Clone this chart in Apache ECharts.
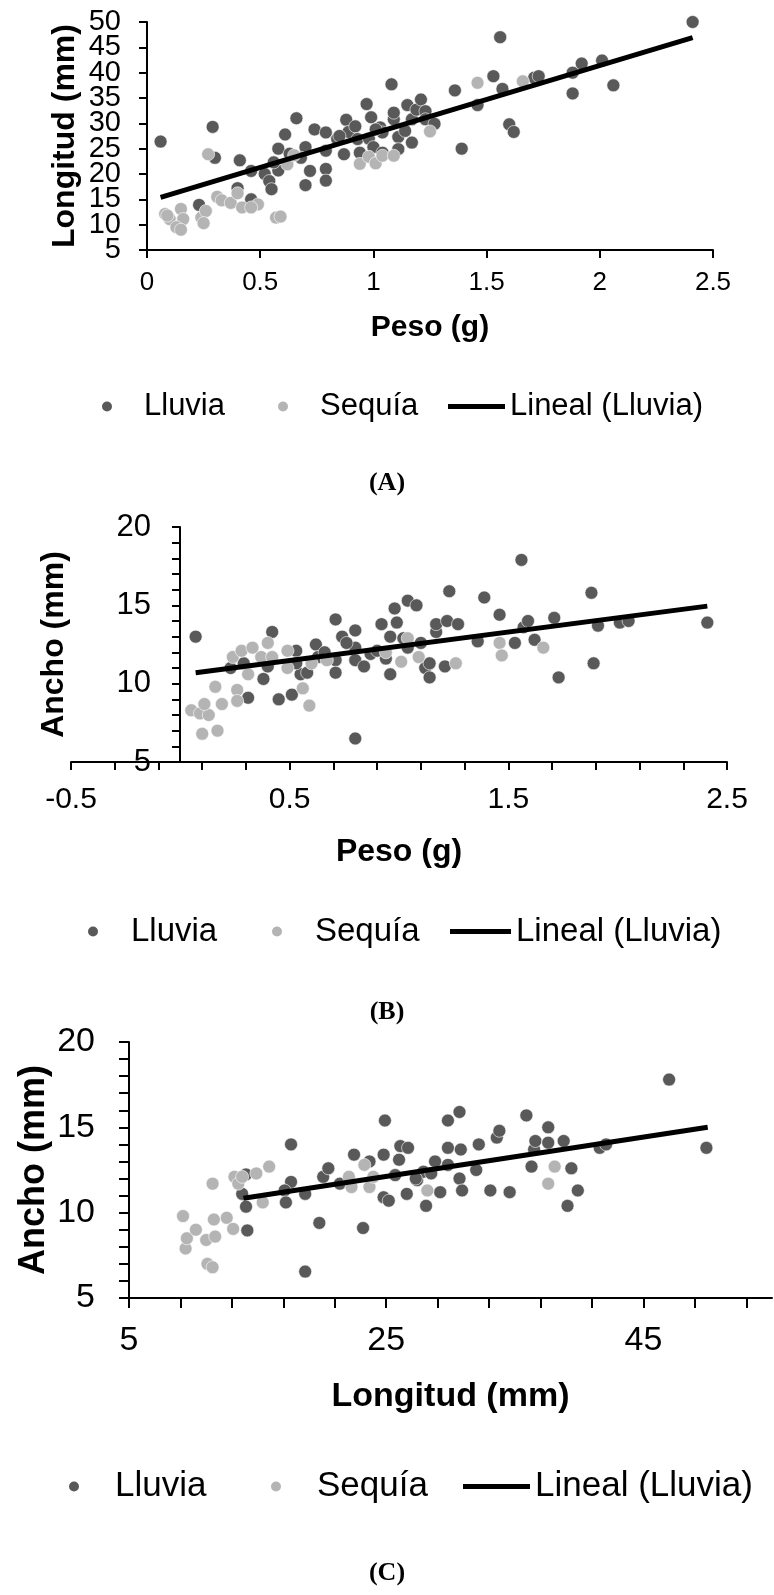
<!DOCTYPE html>
<html lang="es">
<head>
<meta charset="UTF-8">
<title>Peso, longitud y ancho</title>
<script src="https://cdn.jsdelivr.net/npm/echarts@6/dist/echarts.min.js"></script>
<style>
  html, body { margin: 0; padding: 0; background: #fff; }
  #main { width: 774px; height: 1595px; }
</style>
</head>
<body>
<div id="main"></div>
<script>
// (A) Peso (g) vs Longitud (mm)
var lluviaA = [
  [0.06, 26.4], [0.29, 29.3], [0.30, 23.2], [0.23, 13.9], [0.41, 22.7], [0.40, 17.2],
  [0.46, 20.6], [0.46, 15.0], [0.52, 20.0], [0.54, 18.6], [0.55, 17.0], [0.58, 20.7],
  [0.58, 25.0], [0.61, 27.8], [0.66, 31.0], [0.70, 25.3], [0.70, 17.8], [0.72, 20.6],
  [0.74, 28.8], [0.68, 23.2], [0.79, 28.2], [0.79, 24.6], [0.79, 21.0], [0.79, 18.7],
  [0.84, 26.9], [0.87, 23.9], [0.88, 30.7], [0.89, 28.3], [0.92, 29.4], [0.93, 26.9],
  [0.94, 24.2], [0.97, 33.8], [0.99, 31.2], [0.98, 27.0], [1.00, 25.3], [1.03, 29.2],
  [1.04, 28.2], [1.04, 24.2], [1.08, 37.7], [1.09, 30.8], [1.09, 32.1], [1.11, 27.3],
  [1.11, 24.9], [1.15, 33.6], [1.14, 28.5], [1.17, 26.2], [1.17, 30.8], [1.19, 32.7],
  [1.21, 34.7], [1.23, 32.4], [1.23, 30.8], [1.27, 29.9], [1.36, 36.5], [1.39, 25.0],
  [1.46, 33.6], [1.53, 39.3], [1.56, 47.0], [1.57, 36.8], [1.60, 29.8], [1.62, 28.3],
  [1.71, 39.0], [1.73, 39.3], [1.88, 35.9], [1.88, 40.0], [1.92, 41.8], [2.01, 42.4],
  [2.06, 37.5], [2.41, 50.0], [0.56, 22.3], [0.63, 24.0], [0.85, 27.5], [1.01, 28.8]
];
var sequiaA = [
  [0.08, 12.1], [0.10, 11.1], [0.15, 13.1], [0.16, 11.1], [0.13, 9.5], [0.15, 9.0],
  [0.24, 11.4], [0.26, 12.7], [0.25, 10.3], [0.27, 23.9], [0.31, 15.5], [0.33, 14.8],
  [0.37, 14.3], [0.40, 16.2], [0.42, 13.4], [0.49, 14.0], [0.46, 13.4], [0.57, 11.4],
  [0.59, 11.6], [0.62, 21.9], [0.65, 23.7], [0.94, 22.0], [0.98, 23.4], [1.01, 22.1],
  [1.04, 23.6], [1.09, 23.6], [1.25, 28.4], [1.46, 38.0], [1.66, 38.3], [0.09, 11.8]
];
var trendA = [[0.06, 15.4], [2.41, 46.9]];

// (B) Peso (g) vs Ancho (mm)
var lluviaB = [
  [0.07, 13.0], [0.42, 13.3], [0.40, 11.1], [0.38, 10.3], [0.31, 9.1], [0.29, 11.3],
  [0.23, 11.0], [0.45, 9.0], [0.51, 9.3], [0.53, 12.1], [0.55, 10.6], [0.58, 10.7],
  [0.62, 12.5], [0.63, 11.7], [0.71, 14.1], [0.71, 11.5], [0.71, 10.7], [0.74, 13.0],
  [0.80, 13.4], [0.80, 12.3], [0.80, 11.5], [0.80, 6.5], [0.84, 11.1], [0.87, 11.9],
  [0.92, 13.8], [0.94, 11.6], [0.96, 10.6], [0.98, 14.8], [0.99, 13.9], [0.96, 13.0],
  [1.04, 12.3], [1.04, 15.3], [1.08, 15.0], [1.10, 12.6], [1.12, 11.0], [1.14, 10.4],
  [1.14, 11.3], [1.17, 13.3], [1.17, 13.8], [1.21, 11.1], [1.23, 15.9], [1.22, 14.0],
  [1.27, 13.8], [1.36, 12.7], [1.39, 15.5], [1.46, 14.4], [1.53, 12.6], [1.56, 17.9],
  [1.57, 13.6], [1.59, 14.0], [1.62, 12.8], [1.71, 14.2], [1.73, 10.4], [1.88, 15.8],
  [1.89, 11.3], [1.91, 13.7], [2.01, 13.9], [2.05, 14.0], [2.41, 13.9], [0.53, 11.3],
  [0.66, 12.0], [0.76, 12.6], [0.90, 12.1], [1.02, 12.9]
];
var sequiaB = [
  [0.05, 8.3], [0.09, 8.1], [0.13, 8.0], [0.11, 8.7], [0.16, 9.8], [0.10, 6.8],
  [0.17, 7.0], [0.19, 8.7], [0.24, 11.7], [0.26, 9.6], [0.26, 8.9], [0.28, 12.1],
  [0.31, 10.6], [0.33, 12.3], [0.37, 11.7], [0.40, 12.6], [0.42, 11.7], [0.49, 12.1],
  [0.49, 11.0], [0.56, 9.7], [0.59, 8.6], [0.60, 11.3], [0.67, 11.5], [0.94, 12.0],
  [1.01, 11.4], [1.04, 12.9], [1.09, 11.7], [1.26, 11.3], [1.46, 12.6], [1.47, 11.8],
  [1.66, 12.3]
];
var trendB = [[0.07, 10.7], [2.41, 14.95]];

// (C) Longitud (mm) vs Ancho (mm)
var lluviaC = [
  [14.1, 10.35], [14.2, 8.96], [14.1, 12.24], [13.8, 11.1], [17.6, 14.0], [17.6, 11.8],
  [17.1, 11.3], [17.2, 10.6], [18.7, 11.1], [18.7, 6.55], [19.8, 9.4], [20.1, 12.1],
  [20.5, 12.6], [22.5, 13.4], [23.2, 9.1], [23.7, 13.0], [24.8, 13.4], [24.9, 15.4],
  [24.8, 10.9], [25.2, 10.7], [25.7, 12.2], [26.1, 13.9], [26.0, 13.1], [26.6, 11.1],
  [26.7, 13.8], [27.4, 11.9], [27.9, 12.4], [28.1, 10.4], [28.8, 13.0], [29.2, 11.2],
  [29.8, 15.4], [29.8, 13.8], [29.8, 12.8], [30.7, 15.9], [30.8, 13.7], [30.7, 12.0],
  [30.9, 11.3], [32.0, 12.5], [32.2, 14.0], [33.1, 11.3], [33.6, 14.4], [33.8, 14.8],
  [34.6, 11.2], [35.9, 15.7], [36.3, 12.7], [36.5, 13.7], [36.6, 14.2], [37.6, 15.0],
  [37.6, 14.1], [38.8, 14.2], [39.1, 10.4], [39.4, 12.6], [39.9, 11.3], [41.6, 13.8],
  [42.1, 14.0], [47.0, 17.8], [49.9, 13.8], [27.3, 12.0], [28.5, 12.3], [21.4, 11.7]
];
var sequiaC = [
  [9.2, 9.8], [9.4, 7.9], [9.5, 8.5], [10.2, 9.0], [11.0, 8.4], [11.1, 7.0],
  [11.5, 6.8], [11.5, 11.7], [11.6, 9.6], [11.7, 8.6], [12.6, 9.7], [13.1, 9.05],
  [13.2, 12.1], [13.5, 11.7], [13.8, 12.1], [14.9, 12.3], [15.9, 12.7], [15.4, 10.6],
  [22.1, 12.1], [22.3, 11.5], [23.3, 12.8], [23.7, 11.5], [24.0, 12.1], [28.2, 11.3],
  [37.6, 11.7], [38.1, 12.7]
];
var trendC = [[13.9, 10.85], [50.0, 15.0]];

// ticks and labels
var ticksAy = [5, 10, 15, 20, 25, 30, 35, 40, 45, 50];
var labelsAyOdd = [5, 15, 25, 35, 45];
var labelsAyEven = [10, 20, 30, 40, 50];
var ticksBx = [-0.5, -0.3, -0.1, 0.1, 0.3, 0.5, 0.7, 0.9, 1.1, 1.3, 1.5, 1.7, 1.9, 2.1, 2.3, 2.5];
var labelsBx = [-0.5, 0.5, 1.5, 2.5];
var ticksCx = [5, 9, 13, 17, 21, 25, 29, 33, 37, 41, 45, 49, 53];
var labelsCx = [5, 25, 45];
var ticksY = [5, 6, 7, 8, 9, 10, 11, 12, 13, 14, 15, 16, 17, 18, 19, 20];
var labelsY = [5, 10, 15, 20];

var FONT = 'Liberation Sans, Arial, sans-serif';
var DARK = '#595959';
var LIGHT = '#b4b4b4';

function axisBase(fs, margin, tickLen) {
  return {
    type: 'value',
    nameMoveOverlap: false,
    splitLine: { show: false },
    axisLine: { show: true, onZero: false, lineStyle: { color: '#000', width: 2 } },
    axisTick: { show: true, inside: false, length: tickLen, lineStyle: { color: '#000', width: 2 } },
    axisLabel: {
      color: '#000', fontSize: fs, fontFamily: FONT, margin: margin,
      showMinLabel: true, showMaxLabel: true, hideOverlap: false
    },
    nameTextStyle: { color: '#000', fontFamily: FONT, fontWeight: 'bold' }
  };
}

function merge(a, b) {
  for (var k in b) {
    if (b[k] && typeof b[k] === 'object' && !Array.isArray(b[k]) && a[k]) {
      a[k] = merge(a[k], b[k]);
    } else {
      a[k] = b[k];
    }
  }
  return a;
}

var xAxes = [
  merge(axisBase(26, 20, 8), {
    gridIndex: 0, min: 0, max: 2.5, interval: 0.5,
    name: 'Peso (g)', nameLocation: 'middle', nameGap: 63,
    nameTextStyle: { fontSize: 30 }
  }),
  merge(axisBase(30, 23, 8), {
    gridIndex: 1, min: -0.5, max: 2.5,
    axisTick: { customValues: ticksBx },
    axisLabel: { customValues: labelsBx },
    name: 'Peso (g)', nameLocation: 'middle', nameGap: 74,
    nameTextStyle: { fontSize: 32 }
  }),
  merge(axisBase(34, 26, 10), {
    gridIndex: 2, min: 5, max: 55,
    axisTick: { customValues: ticksCx },
    axisLabel: { customValues: labelsCx },
    name: 'Longitud (mm)', nameLocation: 'middle', nameGap: 82,
    nameTextStyle: { fontSize: 34 }
  })
];

var yAxes = [
  merge(axisBase(29, 26, 8), {
    gridIndex: 0, min: 5, max: 50, interval: 5,
    axisTick: { customValues: ticksAy },
    axisLabel: { customValues: labelsAyOdd },
    name: 'Longitud (mm)', nameLocation: 'middle', nameGap: 66,
    nameTextStyle: { fontSize: 32 }
  }),
  // y axis of (B) crosses the x axis at Peso = 0
  merge(axisBase(31, 29, 8), {
    gridIndex: 1, min: 5, max: 20, interval: 1, offset: -109,
    axisTick: { customValues: ticksY },
    axisLabel: { customValues: labelsY },
    name: 'Ancho (mm)', nameLocation: 'middle', nameGap: 110,
    nameTextStyle: { fontSize: 32 }
  }),
  merge(axisBase(34, 34, 10), {
    gridIndex: 2, min: 5, max: 20, interval: 1,
    axisTick: { customValues: ticksY },
    axisLabel: { customValues: labelsY },
    name: 'Ancho (mm)', nameLocation: 'middle', nameGap: 77,
    nameTextStyle: { fontSize: 36 }
  }),
  // second label row for (A): the tight 5-step labels would otherwise be thinned out
  merge(axisBase(29, 26, 8), {
    gridIndex: 0, min: 5, max: 50, interval: 5, position: 'left',
    axisLine: { show: false },
    axisTick: { show: false },
    axisLabel: { customValues: labelsAyEven }
  })
];

function scatter(name, data, idx, color) {
  return {
    name: name, type: 'scatter', data: data,
    xAxisIndex: idx, yAxisIndex: idx,
    symbol: 'circle', symbolSize: 13,
    itemStyle: { color: color, opacity: 1, borderColor: '#fff', borderWidth: 0.6 },
    z: 2
  };
}
function trend(data, idx) {
  return {
    name: 'Lineal (Lluvia)', type: 'line', data: data,
    xAxisIndex: idx, yAxisIndex: idx,
    symbol: 'none', lineStyle: { color: '#000', width: 5 },
    itemStyle: { color: '#000' },
    z: 3
  };
}

// one legend per entry so each can sit where the reference has it
function dotLegend(name, left, top, fs, pad) {
  return {
    left: left, top: top, padding: 0,
    itemWidth: 12, itemHeight: 12, icon: 'circle',
    data: [name],
    textStyle: { color: '#000', fontSize: fs, fontFamily: FONT, padding: [0, 0, 0, pad] }
  };
}
function lineLegend(left, top, fs, w) {
  return {
    left: left, top: top, padding: 0,
    itemWidth: w, itemHeight: 5, symbolKeepAspect: false,
    icon: 'path://M0,0L60,0L60,5L0,5Z',
    data: ['Lineal (Lluvia)'],
    textStyle: { color: '#000', fontSize: fs, fontFamily: FONT }
  };
}

function caption(text, top) {
  return {
    text: text, left: 'center', top: top, padding: 0,
    textStyle: { fontFamily: 'Liberation Serif, Times New Roman, serif', fontWeight: 'bold', fontSize: 26, color: '#000' }
  };
}

var chart = echarts.init(document.getElementById('main'));
chart.setOption({
  animation: false,
  backgroundColor: '#fff',
  title: [caption('(A)', 470), caption('(B)', 999), caption('(C)', 1560)],
  legend: [
    dotLegend('Lluvia', 100, 391, 31, 26), dotLegend('Sequía', 276, 391, 31, 26), lineLegend(448, 391, 31, 57),
    dotLegend('Lluvia', 86, 915, 33, 27), dotLegend('Sequía', 270, 915, 33, 27), lineLegend(450, 915, 33, 61),
    dotLegend('Lluvia', 67, 1469, 35, 30), dotLegend('Sequía', 269, 1469, 35, 30), lineLegend(463, 1469, 35, 67)
  ],
  grid: [
    { left: 147, right: 61, top: 22, height: 228, outerBoundsMode: 'none', containLabel: false },
    { left: 71, right: 47, top: 527, height: 235, outerBoundsMode: 'none', containLabel: false },
    { left: 129, right: 2, top: 1042, height: 256, outerBoundsMode: 'none', containLabel: false }
  ],
  xAxis: xAxes,
  yAxis: yAxes,
  series: [
    scatter('Lluvia', lluviaA, 0, DARK), scatter('Sequía', sequiaA, 0, LIGHT), trend(trendA, 0),
    scatter('Lluvia', lluviaB, 1, DARK), scatter('Sequía', sequiaB, 1, LIGHT), trend(trendB, 1),
    scatter('Lluvia', lluviaC, 2, DARK), scatter('Sequía', sequiaC, 2, LIGHT), trend(trendC, 2)
  ]
});
</script>
</body>
</html>
